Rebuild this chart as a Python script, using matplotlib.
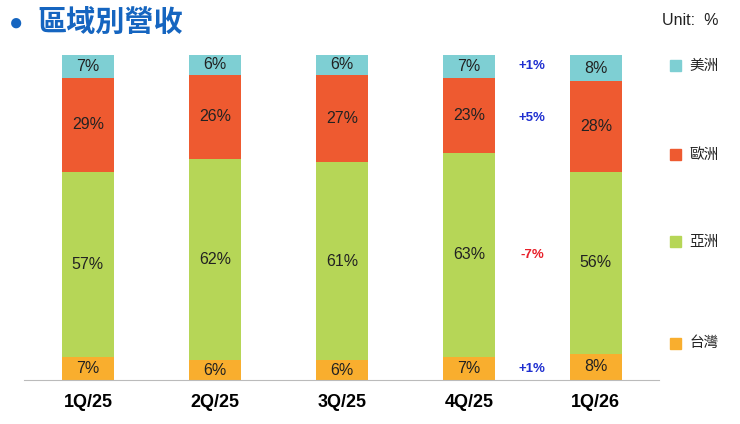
import matplotlib
matplotlib.use("Agg")
import matplotlib.pyplot as plt

plt.rcParams['font.family'] = ['Liberation Sans', 'Noto Sans CJK TC', 'DejaVu Sans']

quarters = ['1Q/25', '2Q/25', '3Q/25', '4Q/25', '1Q/26']
regions = ['台灣', '亞洲', '歐洲', '美洲']
taiwan = [7, 6, 6, 7, 8]
asia = [57, 62, 61, 63, 56]
europe = [29, 26, 27, 23, 28]
americas = [7, 6, 6, 7, 8]
changes = ['+1%', '-7%', '+5%', '+1%']  # taiwan, asia, europe, americas
colors = ['#F9AE2E', '#B6D657', '#EE5A30', '#7ECFD3']
change_colors = ['#1F2FD0', '#E8202A', '#1F2FD0', '#1F2FD0']

fig = plt.figure(figsize=(7.4, 4.24), dpi=100)
ax = fig.add_axes([0.033, 0.104, 0.858, 0.766])
series = [taiwan, asia, europe, americas]
x = list(range(len(quarters)))
bottom = [0] * len(quarters)
for vals, c in zip(series, colors):
    ax.bar(x, vals, 0.41, bottom=bottom, color=c)
    for i, v in enumerate(vals):
        ax.text(i, bottom[i] + v / 2, f'{v}%', ha='center', va='center', fontsize=11.5, color='#222222')
    bottom = [b + v for b, v in zip(bottom, vals)]

cum = 0
for j, vals in enumerate(series):
    ax.text(3.5, cum + vals[3] / 2 if j != 2 else 80.5, changes[j], ha='center', va='center',
            fontsize=9.5, fontweight='bold', color=change_colors[j])
    cum += vals[3]

ax.set_xlim(-0.5, 4.5)
ax.set_ylim(0, 100)
ax.set_yticks([])
ax.set_xticks(x)
ax.set_xticklabels(quarters, fontsize=13, fontweight='bold')
ax.tick_params(axis='x', length=0, pad=10)
for s in ['top', 'right', 'left']:
    ax.spines[s].set_visible(False)
ax.spines['bottom'].set_color('#BBBBBB')

leg_y = [0.19, 0.43, 0.635, 0.845]
for name, c, yy in zip(regions, colors, leg_y):
    fig.patches.append(plt.Rectangle((0.905, yy - 0.013), 0.015, 0.026, transform=fig.transFigure, color=c))
    fig.text(0.932, yy, name, fontsize=10.5, va='center', color='#222222')

fig.text(0.895, 0.97, 'Unit:  %', fontsize=11.5, va='top', color='#222222')
fig.text(0.012, 0.945, '●', fontsize=17, color='#1565C0', va='center')
fig.text(0.05, 0.945, '區域別營收', fontsize=21, fontweight='bold', color='#1565C0', va='center')

fig.savefig('out.png', dpi=100)
